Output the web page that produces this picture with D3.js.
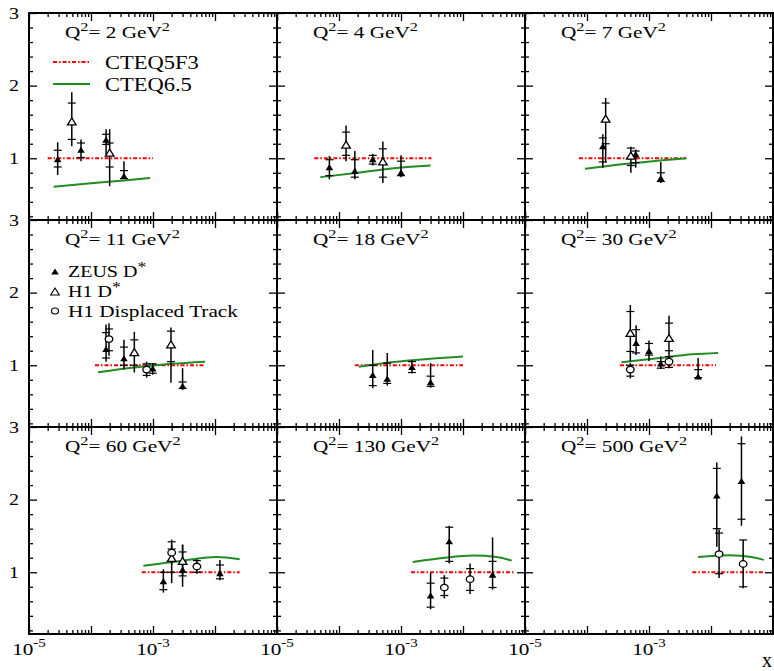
<!DOCTYPE html>
<meta charset="utf-8">
<script src="https://d3js.org/d3.v7.min.js"></script>
<style>
  body { margin: 0; background: #fff; }
  text { font-family: "Liberation Serif", "Times New Roman", serif; fill: #000; }
</style>
<body>
<div id="chart"></div>
<script>
// Q^2 of each panel (GeV^2), row by row
var q2List = [2, 4, 7, 11, 18, 30, 60, 130, 500];

// axis ticks
var yTickLabels = [1, 2, 3];
var xLabelTicks = [1e-5, 1e-3];
var xLabelExp = ["-5", "-3"];
var xMajor = [1e-5, 1e-4, 1e-3, 1e-2, 1e-1];

// CTEQ5F3 (ratio = 1) x range per panel
var cteq5Range = [
  [2e-5, 1e-3], [4e-5, 3.1e-3], [7.4e-5, 4e-3],
  [1.16e-4, 6.5e-3], [1.8e-4, 1e-2], [3.4e-4, 1.2e-2],
  [6.6e-4, 2.5e-2], [1.45e-3, 6.5e-2], [5e-3, 7e-2]
];

// CTEQ6.5 curve per panel [x, ratio]
var cteq65 = [
  [[2.5e-5, 0.607], [1e-4, 0.655], [3.4e-4, 0.695], [9e-4, 0.73]],
  [[5e-5, 0.74], [2e-4, 0.80], [7e-4, 0.86], [3e-3, 0.90]],
  [[9.3e-5, 0.854], [4e-4, 0.92], [1.5e-3, 0.97], [4e-3, 1.0]],
  [[1.3e-4, 0.905], [5e-4, 0.97], [2e-3, 1.02], [6.9e-3, 1.05]],
  [[2.1e-4, 0.98], [7e-4, 1.04], [3e-3, 1.09], [1e-2, 1.12]],
  [[3.6e-4, 1.04], [1.5e-3, 1.10], [5e-3, 1.15], [1.3e-2, 1.17]],
  [[7e-4, 1.09], [3e-3, 1.16], [1.06e-2, 1.21], [2.5e-2, 1.18]],
  [[1.55e-3, 1.14], [5e-3, 1.20], [1.47e-2, 1.23], [3.5e-2, 1.21], [6.1e-2, 1.16]],
  [[6.2e-3, 1.21], [2e-2, 1.235], [4.5e-2, 1.21], [7.1e-2, 1.17]]
];

// data points: [x, ratio, totLo, totHi, statLo, statHi]
var zeus = [
  [[2.9e-5, 0.98, 0.77, 1.22, 0.88, 1.11], [6.9e-5, 1.11, 0.96, 1.26, 1.01, 1.21],
   [1.75e-4, 1.25, 1.05, 1.40, 1.19, 1.33], [3.4e-4, 0.75, 0.72, 0.96, 0.72, 0.83]],
  [[7e-5, 0.87, 0.71, 1.03, 0.76, 0.98], [1.8e-4, 0.82, 0.71, 1.10, 0.74, 0.98],
   [3.5e-4, 0.98, 0.90, 1.06, 0.92, 1.04], [1.0e-3, 0.80, 0.74, 1.04, 0.76, 0.96]],
  [[1.8e-4, 1.16, 0.87, 1.33, 0.95, 1.28], [6.1e-4, 1.05, 0.87, 1.12, 0.94, 1.10],
   [1.55e-3, 0.72, 0.66, 0.95, 0.68, 0.80]],
  [[1.75e-4, 1.22, 1.05, 1.56, 1.10, 1.45], [3.4e-4, 1.09, 0.94, 1.35, 1.00, 1.25],
   [9.9e-4, 0.95, 0.87, 1.03, 0.89, 1.02], [3e-3, 0.71, 0.66, 0.96, 0.68, 0.77]],
  [[3.5e-4, 0.86, 0.685, 1.21, 0.72, 1.00], [6e-4, 0.81, 0.72, 1.17, 0.75, 1.03],
   [1.5e-3, 0.97, 0.89, 1.07, 0.90, 1.05], [3e-3, 0.76, 0.69, 1.03, 0.71, 0.85]],
  [[6.2e-4, 1.30, 1.14, 1.55, 1.17, 1.49], [1e-3, 1.19, 1.06, 1.34, 1.14, 1.30],
   [1.55e-3, 1.02, 0.95, 1.12, 0.96, 1.05], [6.2e-3, 0.84, 0.81, 1.10, 0.83, 0.94]],
  [[1.47e-3, 0.87, 0.72, 1.04, 0.76, 1.00], [3e-3, 1.03, 0.80, 1.38, 0.95, 1.15],
   [1.2e-2, 0.98, 0.89, 1.17, 0.91, 1.10]],
  [[3e-3, 0.675, 0.49, 0.99, 0.52, 0.85], [6e-3, 1.42, 1.12, 1.64, 1.15, 1.62],
   [3e-2, 0.96, 0.76, 1.48, 0.79, 1.15]],
  [[1.24e-2, 2.05, 1.35, 2.51, 1.60, 2.43], [3.1e-2, 2.25, 1.64, 2.87, 1.73, 2.77]]
];

var h1Dstar = [
  [[4.9e-5, 1.50, 1.165, 1.91, 1.26, 1.76], [2.0e-4, 1.07, 0.615, 1.40, 0.88, 1.21]],
  [[1.3e-4, 1.18, 0.96, 1.45, 1.04, 1.36], [5.1e-4, 0.95, 0.66, 1.23, 0.74, 1.13]],
  [[2.0e-4, 1.54, 0.94, 1.83, 1.20, 1.76], [5.1e-4, 1.03, 0.80, 1.16, 0.90, 1.14]],
  [[5e-4, 1.175, 0.90, 1.46, 1.00, 1.35], [1.95e-3, 1.28, 0.76, 1.52, 1.05, 1.47]],
  [],
  [[5e-4, 1.44, 1.05, 1.83, 1.19, 1.74], [2.1e-3, 1.37, 1.05, 1.68, 1.20, 1.58]],
  [[2e-3, 1.19, 0.85, 1.38, 1.00, 1.32], [3e-3, 1.15, 0.95, 1.38, 1.00, 1.28]],
  [],
  []
];

var h1Track = [
  [], [], [],
  [[1.95e-4, 1.36, 1.13, 1.58, 1.20, 1.50], [7.9e-4, 0.94, 0.83, 1.05, 0.86, 1.02]],
  [],
  [[5e-4, 0.94, 0.82, 1.03, 0.85, 1.00], [2.1e-3, 1.05, 0.96, 1.12, 0.97, 1.12]],
  [[2e-3, 1.27, 1.10, 1.45, 1.15, 1.42], [5.1e-3, 1.08, 0.98, 1.18, 1.00, 1.16]],
  [[5e-3, 0.79, 0.64, 0.96, 0.68, 0.92], [1.3e-2, 0.905, 0.70, 1.12, 0.75, 1.05]],
  [[1.35e-2, 1.25, 0.92, 1.59, 0.98, 1.54], [3.3e-2, 1.115, 0.78, 1.445, 0.80, 1.445]]
];

var W = 248, H = 207, left0 = 29, top0 = 13;
var stretch = 1.25; // text in the picture is wider than tall

var svg = d3.select("#chart").append("svg")
    .attr("width", 774)
    .attr("height", 671);

var x = d3.scaleLog().domain([1e-5, 1e-1]).range([0, W]);
var y = d3.scaleLinear().domain([0.15, 3]).range([H, 0]);

var xMinor = [];
xMajor.slice(0, -1).forEach(function (d) {
  for (var k = 2; k <= 9; k++) xMinor.push(k * d);
});
var yMinor = d3.range(2, 30, 2).map(function (d) { return d / 10; })
    .filter(function (d) { return yTickLabels.indexOf(d) < 0; });

var triFill = "M0,-3.6L3.8,2.6L-3.8,2.6Z";
var triOpen = "M0,-4L4.3,3L-4.3,3Z";

function label(parent, px, py, size, anchor) {
  return parent.append("text")
      .attr("transform", "translate(" + px + "," + py + ") scale(" + stretch + ",1)")
      .attr("text-anchor", anchor || "start")
      .style("font-size", size + "px");
}

function drawAxes(g) {
  var axes = [
    [d3.axisBottom, "translate(0," + H + ")", x],
    [d3.axisTop, null, x],
    [d3.axisLeft, null, y],
    [d3.axisRight, "translate(" + W + ",0)", y]
  ];
  axes.forEach(function (a) {
    var isX = a[2] === x;
    [[isX ? xMinor : yMinor, -4], [isX ? xMajor : yTickLabels, -8]].forEach(function (t) {
      var ax = g.append("g").call(a[0](a[2]).tickValues(t[0]).tickSize(t[1]).tickFormat(""));
      if (a[1]) ax.attr("transform", a[1]);
      ax.select(".domain").remove();
      ax.selectAll(".tick line").attr("stroke", "#000").attr("stroke-width", 1.3);
    });
  });
  g.append("rect")
      .attr("width", W).attr("height", H)
      .attr("fill", "none").attr("stroke", "#000").attr("stroke-width", 2);
}

function drawPoints(g, pts) {
  pts.forEach(function (p) {
    var cx = x(p[0]);
    g.append("line").attr("x1", cx).attr("x2", cx)
        .attr("y1", y(p[2])).attr("y2", y(p[3]))
        .attr("stroke", "#000").attr("stroke-width", 1.5);
    [p[4], p[5]].forEach(function (s) {
      g.append("line").attr("x1", cx - 4).attr("x2", cx + 4)
          .attr("y1", y(s)).attr("y2", y(s))
          .attr("stroke", "#000").attr("stroke-width", 1.2);
    });
  });
}

q2List.forEach(function (q2, i) {
  var col = i % 3, row = Math.floor(i / 3);
  var g = svg.append("g")
      .attr("transform", "translate(" + (left0 + col * W) + "," + (top0 + row * H) + ")");

  drawAxes(g);

  // CTEQ5F3
  g.append("line")
      .attr("x1", x(cteq5Range[i][0])).attr("x2", x(cteq5Range[i][1]))
      .attr("y1", y(1)).attr("y2", y(1))
      .attr("stroke", "#ff0000").attr("stroke-width", 1.8)
      .attr("stroke-dasharray", "4,2,1.5,2");

  // CTEQ6.5
  g.append("path")
      .datum(cteq65[i])
      .attr("d", d3.line().curve(d3.curveMonotoneX)
          .x(function (d) { return x(d[0]); })
          .y(function (d) { return y(d[1]); }))
      .attr("fill", "none").attr("stroke", "#228b22").attr("stroke-width", 2);

  drawPoints(g, zeus[i]);
  drawPoints(g, h1Dstar[i]);
  drawPoints(g, h1Track[i]);

  g.selectAll(".zeus").data(zeus[i]).enter().append("path")
      .attr("d", triFill)
      .attr("transform", function (d) { return "translate(" + x(d[0]) + "," + y(d[1]) + ")"; })
      .attr("fill", "#000");
  g.selectAll(".h1d").data(h1Dstar[i]).enter().append("path")
      .attr("d", triOpen)
      .attr("transform", function (d) { return "translate(" + x(d[0]) + "," + y(d[1]) + ")"; })
      .attr("fill", "#fff").attr("stroke", "#000").attr("stroke-width", 1.3);
  g.selectAll(".h1t").data(h1Track[i]).enter().append("ellipse")
      .attr("cx", function (d) { return x(d[0]); })
      .attr("cy", function (d) { return y(d[1]); })
      .attr("rx", 3.8).attr("ry", 3.2)
      .attr("fill", "#fff").attr("stroke", "#000").attr("stroke-width", 1.3);

  // panel title
  var t = label(g, 36, 25, 17);
  t.append("tspan").text("Q");
  t.append("tspan").attr("dy", -7).style("font-size", "13px").text("2");
  t.append("tspan").attr("dy", 7).text("= " + q2 + " GeV");
  t.append("tspan").attr("dy", -7).style("font-size", "13px").text("2");

  // y tick labels on the left column
  if (col === 0) {
    yTickLabels.forEach(function (v) {
      label(g, -15, y(v) + 5.5, 16, "middle").text(v);
    });
  }
  // x tick labels on the bottom row
  if (row === 2) {
    xLabelTicks.forEach(function (v, k) {
      var tl = label(g, x(v), H + 21, 17, "middle");
      tl.append("tspan").text("10");
      tl.append("tspan").attr("dy", -8).style("font-size", "12px").text(xLabelExp[k]);
    });
  }

  // legends
  if (i === 0) {
    g.append("line").attr("x1", 24).attr("x2", 61).attr("y1", 49).attr("y2", 49)
        .attr("stroke", "#ff0000").attr("stroke-width", 1.8).attr("stroke-dasharray", "4,2,1.5,2");
    label(g, 76, 56, 18).text("CTEQ5F3");
    g.append("line").attr("x1", 24).attr("x2", 61).attr("y1", 71).attr("y2", 71)
        .attr("stroke", "#228b22").attr("stroke-width", 2);
    label(g, 76, 78, 18).text("CTEQ6.5");
  }
  if (i === 3) {
    g.append("path").attr("d", triFill).attr("transform", "translate(26,52)").attr("fill", "#000");
    var l1 = label(g, 39, 57, 16);
    l1.append("tspan").text("ZEUS D");
    l1.append("tspan").attr("dy", -5).style("font-size", "14px").text("*");
    g.append("path").attr("d", triOpen).attr("transform", "translate(26,72)")
        .attr("fill", "#fff").attr("stroke", "#000").attr("stroke-width", 1.1);
    var l2 = label(g, 39, 77, 16);
    l2.append("tspan").text("H1 D");
    l2.append("tspan").attr("dy", -5).style("font-size", "14px").text("*");
    g.append("ellipse").attr("cx", 26).attr("cy", 91).attr("rx", 3.5).attr("ry", 3)
        .attr("fill", "#fff").attr("stroke", "#000").attr("stroke-width", 1.1);
    label(g, 39, 97, 17).text("H1 Displaced Track");
  }
});

// x axis title
svg.append("text")
    .attr("x", 767).attr("y", 667)
    .attr("text-anchor", "middle")
    .style("font-size", "20px")
    .text("x");
</script>
</body>
